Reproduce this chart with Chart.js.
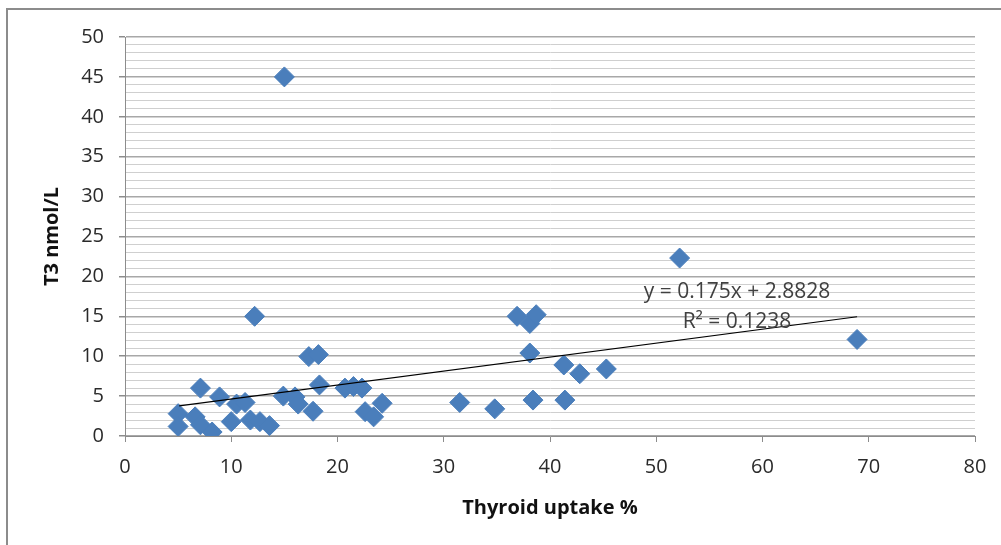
<!DOCTYPE html>
<html>
<head>
<meta charset="utf-8">
<title>T3 vs Thyroid uptake</title>
<script src="https://cdn.jsdelivr.net/npm/chart.js@4.4.1/dist/chart.umd.min.js"></script>
<style>
    html, body { margin: 0; padding: 0; background: #fff; }
    #wrap { width: 1001px; height: 545px; }
</style>
</head>
<body>
<div id="wrap"><canvas id="scatterChart" width="1001" height="545"></canvas></div>
<script>
/* -------- Data -------- */
const uptakeX = [
    5.0, 5.0, 6.6, 7.1, 7.1, 8.2, 8.9, 10.0, 10.5, 11.3,
    11.8, 12.7, 13.6, 12.2, 14.9, 15.0, 16.0, 16.3, 17.3, 18.2,
    18.3, 17.7, 20.7, 21.5, 22.3, 22.6, 23.4, 24.2, 31.5, 34.8,
    36.9, 38.1, 38.7, 38.1, 38.4, 41.3, 41.4, 42.8, 45.3, 52.2,
    68.9
];
const t3Values = [
    2.8, 1.2, 2.4, 6.0, 1.4, 0.5, 4.9, 1.8, 4.0, 4.2,
    2.0, 1.8, 1.3, 15.0, 5.0, 45.0, 4.9, 4.0, 9.95, 10.2,
    6.4, 3.1, 6.0, 6.2, 6.0, 3.05, 2.4, 4.1, 4.2, 3.4,
    15.0, 14.1, 15.2, 10.4, 4.5, 8.9, 4.5, 7.8, 8.4, 22.3,
    12.1
];

/* trendline as printed on the chart */
const trendSlope = 0.175;
const trendIntercept = 2.8828;
const trendRange = [5.1, 68.9];
const trendLabels = ['y = 0.175x + 2.8828', 'R\u00b2 = 0.1238'];

const yTicks = { min: 0, max: 50, minor: 1, major: 5 };
const xTicks = { min: 0, max: 80, step: 10 };

/* -------- Styling -------- */
const FONT = "'Open Sans', 'DejaVu Sans', sans-serif";
const MARKER = '#4A7EBB';

const points = uptakeX.map((x, i) => ({ x: x, y: t3Values[i] }));
const trendPoints = trendRange.map(x => ({ x: x, y: trendSlope * x + trendIntercept }));

/* frame around the chart (only top/left edges visible in the crop) */
const framePlugin = {
    id: 'frame',
    beforeDraw(chart) {
        const ctx = chart.ctx;
        ctx.save();
        ctx.strokeStyle = '#8c8c8c';
        ctx.lineWidth = 2;
        ctx.beginPath();
        ctx.moveTo(7, chart.height);
        ctx.lineTo(7, 9);
        ctx.lineTo(chart.width, 9);
        ctx.stroke();
        ctx.restore();
    }
};

/* regression equation text */
const equationPlugin = {
    id: 'equation',
    afterDatasetsDraw(chart) {
        const ctx = chart.ctx;
        const xs = chart.scales.x;
        const ys = chart.scales.y;
        ctx.save();
        ctx.font = '21px ' + FONT;
        ctx.fillStyle = '#404040';
        ctx.textAlign = 'center';
        ctx.textBaseline = 'middle';
        ctx.fillText(trendLabels[0], xs.getPixelForValue(57.6), ys.getPixelForValue(18.0));
        ctx.fillText(trendLabels[1], xs.getPixelForValue(57.6), ys.getPixelForValue(14.25));
        ctx.restore();
    }
};

new Chart(document.getElementById('scatterChart').getContext('2d'), {
    type: 'scatter',
    data: {
        datasets: [
            {
                type: 'line',
                label: 'Linear trend',
                data: trendPoints,
                borderColor: '#000000',
                borderWidth: 1.2,
                pointRadius: 0,
                fill: false,
                order: 0
            },
            {
                label: 'T3',
                data: points,
                pointStyle: 'rectRot',
                pointRadius: 10,
                pointBackgroundColor: MARKER,
                pointBorderColor: MARKER,
                pointBorderWidth: 1,
                order: 1
            }
        ]
    },
    options: {
        responsive: false,
        animation: false,
        layout: { padding: { left: 0, top: 37, right: 26, bottom: 0 } },
        plugins: {
            legend: { display: false },
            tooltip: { enabled: false }
        },
        scales: {
            x: {
                type: 'linear',
                min: xTicks.min,
                max: xTicks.max,
                afterFit: scale => { scale.height = 109; },
                ticks: {
                    stepSize: xTicks.step,
                    padding: 13,
                    color: '#2a2a2a',
                    font: { family: FONT, size: 20 }
                },
                grid: {
                    drawOnChartArea: false,
                    drawTicks: true,
                    tickLength: 6,
                    tickColor: '#8c8c8c'
                },
                border: { color: '#8c8c8c', width: 1 },
                title: {
                    display: true,
                    text: 'Thyroid uptake %',
                    color: '#111',
                    font: { family: FONT, size: 20, weight: 'bold' },
                    padding: { top: 0, bottom: 25 }
                }
            },
            y: {
                type: 'linear',
                min: yTicks.min,
                max: yTicks.max,
                afterFit: scale => { scale.width = 125; },
                ticks: {
                    stepSize: yTicks.minor,
                    autoSkip: false,
                    padding: 15,
                    color: '#2a2a2a',
                    font: { family: FONT, size: 20 },
                    callback: v => (v % yTicks.major === 0 ? v : '')
                },
                grid: {
                    color: c => (c.tick && c.tick.value % yTicks.major === 0 ? '#a8a8a8' : '#cfcfcf'),
                    lineWidth: c => (c.tick && c.tick.value % yTicks.major === 0 ? 1.5 : 1),
                    tickLength: 6,
                    tickColor: c => (c.tick && c.tick.value % yTicks.major === 0 ? '#8c8c8c' : 'rgba(0,0,0,0)')
                },
                border: { color: '#8c8c8c', width: 1 },
                title: {
                    display: true,
                    text: 'T3 nmol/L',
                    color: '#111',
                    font: { family: FONT, size: 20, weight: 'bold' },
                    padding: { top: 40, bottom: 0 }
                }
            }
        }
    },
    plugins: [framePlugin, equationPlugin]
});
</script>
</body>
</html>
